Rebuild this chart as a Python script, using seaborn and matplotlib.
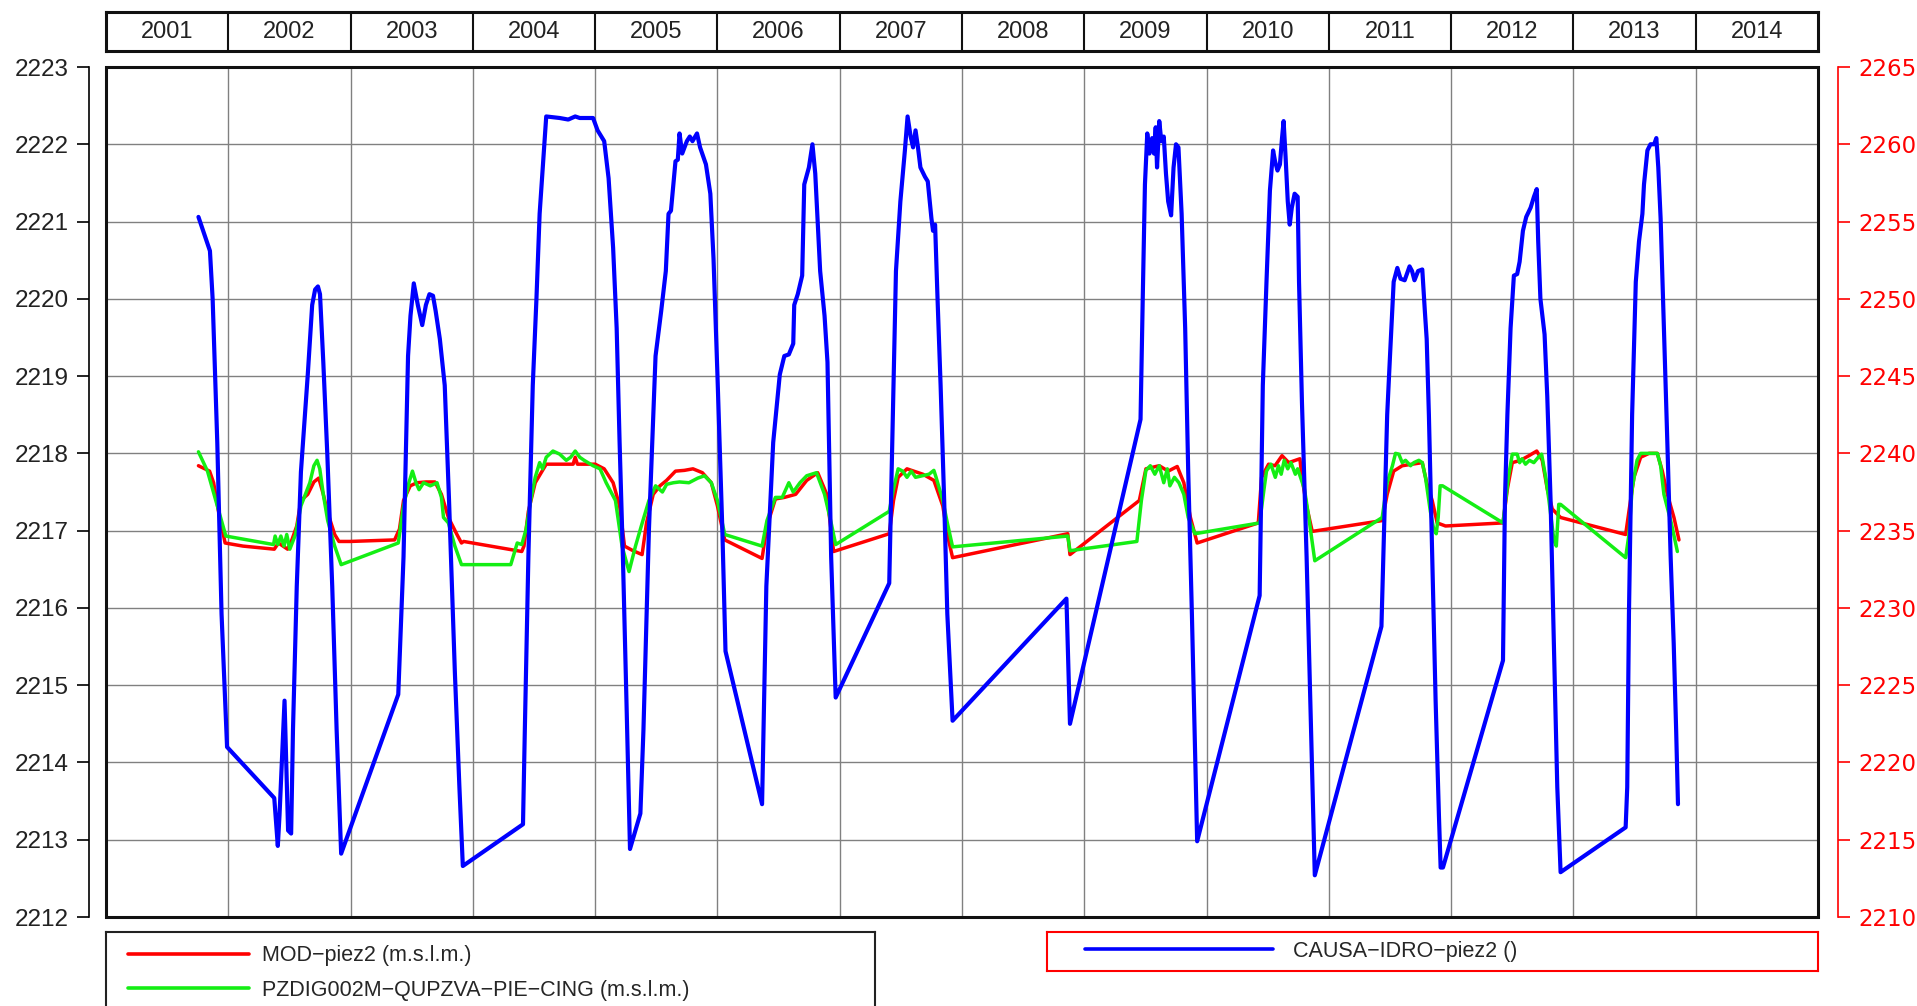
import matplotlib
matplotlib.use("Agg")
import matplotlib.pyplot as plt
from matplotlib.patches import Rectangle
from matplotlib.lines import Line2D
import seaborn as sns
import pandas as pd

# ---------------- data ----------------
YEARS = list(range(2001, 2015))
LEFT_TICKS = list(range(2212, 2224))
RIGHT_TICKS = list(range(2210, 2266, 5))

LABEL_RED = "MOD\u2212piez2 (m.s.l.m.)"
LABEL_GREEN = "PZDIG002M\u2212QUPZVA\u2212PIE\u2212CING (m.s.l.m.)"
LABEL_BLUE = "CAUSA\u2212IDRO\u2212piez2 ()"

blue_x = [2001.756, 2001.850, 2001.872, 2001.910, 2001.945, 2001.990, 2002.376, 2002.405, 2002.419, 2002.441,
          2002.460, 2002.474, 2002.489, 2002.514, 2002.529, 2002.560, 2002.594, 2002.650, 2002.686, 2002.710,
          2002.733, 2002.750, 2002.777, 2002.810, 2002.850, 2002.886, 2002.923, 2003.390, 2003.433, 2003.470,
          2003.490, 2003.517, 2003.550, 2003.586, 2003.616, 2003.645, 2003.674, 2003.696, 2003.730, 2003.770,
          2003.805, 2003.853, 2003.890, 2003.918, 2004.410, 2004.425, 2004.454, 2004.490, 2004.520, 2004.546,
          2004.600, 2004.710, 2004.780, 2004.837, 2004.874, 2004.983, 2005.020, 2005.074, 2005.110, 2005.147,
          2005.176, 2005.200, 2005.227, 2005.256, 2005.285, 2005.370, 2005.395, 2005.440, 2005.494, 2005.540,
          2005.578, 2005.600, 2005.620, 2005.657, 2005.676, 2005.690, 2005.712, 2005.750, 2005.774, 2005.796,
          2005.833, 2005.858, 2005.906, 2005.942, 2005.968, 2006.000, 2006.040, 2006.066, 2006.365, 2006.400,
          2006.456, 2006.510, 2006.547, 2006.584, 2006.620, 2006.628, 2006.657, 2006.693, 2006.710, 2006.748,
          2006.777, 2006.800, 2006.840, 2006.876, 2006.900, 2006.930, 2006.967, 2007.405, 2007.430, 2007.460,
          2007.496, 2007.533, 2007.555, 2007.580, 2007.600, 2007.620, 2007.640, 2007.660, 2007.697, 2007.720,
          2007.750, 2007.763, 2007.780, 2007.800, 2007.825, 2007.854, 2007.880, 2007.923, 2008.854, 2008.883,
          2009.460, 2009.478, 2009.496, 2009.515, 2009.533, 2009.555, 2009.570, 2009.584, 2009.595, 2009.613,
          2009.630, 2009.650, 2009.668, 2009.686, 2009.710, 2009.730, 2009.750, 2009.770, 2009.796, 2009.825,
          2009.850, 2009.880, 2009.923, 2010.434, 2010.460, 2010.490, 2010.518, 2010.544, 2010.560, 2010.580,
          2010.600, 2010.617, 2010.630, 2010.646, 2010.664, 2010.680, 2010.697, 2010.720, 2010.745, 2010.756,
          2010.780, 2010.818, 2010.854, 2010.885, 2011.430, 2011.458, 2011.477, 2011.500, 2011.530, 2011.560,
          2011.586, 2011.620, 2011.660, 2011.680, 2011.700, 2011.730, 2011.764, 2011.785, 2011.800, 2011.818,
          2011.845, 2011.873, 2011.900, 2011.914, 2011.933, 2012.424, 2012.440, 2012.460, 2012.486, 2012.513,
          2012.540, 2012.560, 2012.587, 2012.614, 2012.650, 2012.677, 2012.700, 2012.712, 2012.730, 2012.764,
          2012.786, 2012.813, 2012.840, 2012.868, 2012.895, 2013.427, 2013.440, 2013.454, 2013.480, 2013.510,
          2013.536, 2013.564, 2013.577, 2013.605, 2013.630, 2013.660, 2013.678, 2013.694, 2013.713, 2013.740,
          2013.768, 2013.795, 2013.820, 2013.840, 2013.855]
blue_y = [2255.3, 2253.1, 2250.0, 2240.7, 2229.6, 2221.0, 2217.7, 2214.6, 2216.6, 2220.6,
          2224.0, 2219.9, 2215.6, 2215.4, 2222.1, 2231.4, 2238.8, 2245.1, 2249.6, 2250.6,
          2250.8, 2250.3, 2245.9, 2239.9, 2231.4, 2222.1, 2214.1, 2224.4, 2233.3, 2246.3,
          2248.9, 2251.0, 2249.6, 2248.3, 2249.6, 2250.3, 2250.2, 2249.2, 2247.4, 2244.4,
          2237.0, 2225.8, 2218.4, 2213.3, 2216.0, 2222.1, 2233.3, 2244.4, 2250.0, 2255.5,
          2261.8, 2261.7, 2261.6, 2261.8, 2261.7, 2261.7, 2260.9, 2260.2, 2257.8, 2253.3,
          2248.1, 2240.7, 2233.3, 2224.0, 2214.4, 2216.7, 2222.1, 2235.1, 2246.3, 2249.2,
          2251.8, 2255.5, 2255.7, 2258.9, 2259.0, 2260.7, 2259.4, 2260.2, 2260.5, 2260.2,
          2260.7, 2259.8, 2258.7, 2256.8, 2252.6, 2245.1, 2235.1, 2227.2, 2217.3, 2231.4,
          2240.7, 2245.1, 2246.3, 2246.4, 2247.1, 2249.6, 2250.3, 2251.5, 2257.4, 2258.5,
          2260.0, 2258.1, 2251.8, 2248.9, 2245.9, 2233.3, 2224.2, 2231.6, 2240.7, 2251.8,
          2256.3, 2259.6, 2261.8, 2260.5, 2259.8, 2260.9, 2259.8, 2258.5, 2257.9, 2257.6,
          2255.2, 2254.4, 2254.8, 2250.0, 2244.4, 2237.0, 2229.6, 2222.7, 2230.6, 2222.5,
          2242.2, 2250.0, 2257.4, 2260.7, 2259.4, 2260.4, 2259.4, 2261.1, 2258.5, 2261.5,
          2260.2, 2260.5, 2258.1, 2256.3, 2255.4, 2258.5, 2260.0, 2259.8, 2255.5, 2248.1,
          2238.8, 2229.6, 2214.9, 2230.8, 2244.4, 2251.1, 2257.0, 2259.6, 2258.9, 2258.3,
          2258.7, 2260.4, 2261.5, 2259.2, 2256.3, 2254.8, 2255.9, 2256.8, 2256.6, 2251.1,
          2243.3, 2233.3, 2222.1, 2212.7, 2228.8, 2237.0, 2242.5, 2246.3, 2251.1, 2252.0,
          2251.3, 2251.2, 2252.1, 2251.8, 2251.2, 2251.8, 2251.9, 2249.2, 2247.4, 2242.5,
          2233.3, 2224.0, 2216.6, 2213.2, 2213.2, 2226.6, 2237.0, 2242.5, 2248.1, 2251.5,
          2251.6, 2252.4, 2254.4, 2255.3, 2255.9, 2256.6, 2257.1, 2253.7, 2250.0, 2247.7,
          2243.7, 2237.0, 2227.7, 2218.4, 2212.9, 2215.8, 2218.4, 2229.6, 2242.5, 2251.1,
          2253.7, 2255.5, 2257.4, 2259.6, 2260.0, 2260.0, 2260.4, 2258.5, 2255.2, 2248.1,
          2240.7, 2233.3, 2227.7, 2222.1, 2217.3]

red_x = [2001.756, 2001.847, 2001.880, 2001.920, 2001.974, 2002.120, 2002.376, 2002.410, 2002.485, 2002.520,
         2002.560, 2002.594, 2002.650, 2002.700, 2002.740, 2002.777, 2002.810, 2002.870, 2002.905, 2002.996,
         2003.360, 2003.400, 2003.433, 2003.488, 2003.543, 2003.616, 2003.690, 2003.743, 2003.800, 2003.870,
         2003.907, 2003.925, 2004.400, 2004.418, 2004.454, 2004.510, 2004.600, 2004.820, 2004.837, 2004.855,
         2005.000, 2005.074, 2005.147, 2005.200, 2005.240, 2005.310, 2005.384, 2005.420, 2005.475, 2005.530,
         2005.584, 2005.657, 2005.730, 2005.800, 2005.877, 2005.950, 2006.000, 2006.060, 2006.365, 2006.405,
         2006.474, 2006.547, 2006.640, 2006.730, 2006.820, 2006.894, 2006.950, 2007.405, 2007.440, 2007.478,
         2007.550, 2007.606, 2007.680, 2007.770, 2007.843, 2007.880, 2007.923, 2008.865, 2008.883, 2009.450,
         2009.504, 2009.613, 2009.686, 2009.760, 2009.814, 2009.868, 2009.923, 2010.423, 2010.450, 2010.507,
         2010.560, 2010.617, 2010.672, 2010.726, 2010.763, 2010.780, 2010.818, 2010.864, 2011.436, 2011.477,
         2011.530, 2011.600, 2011.680, 2011.764, 2011.800, 2011.845, 2011.886, 2011.954, 2012.424, 2012.460,
         2012.500, 2012.568, 2012.636, 2012.700, 2012.745, 2012.786, 2012.827, 2012.895, 2013.427, 2013.454,
         2013.495, 2013.550, 2013.618, 2013.686, 2013.727, 2013.768, 2013.822, 2013.863]
red_y = [2217.84, 2217.77, 2217.62, 2217.25, 2216.84, 2216.80, 2216.76, 2216.84, 2216.76, 2216.88,
         2217.06, 2217.39, 2217.47, 2217.63, 2217.68, 2217.47, 2217.25, 2216.95, 2216.86, 2216.86,
         2216.88, 2217.02, 2217.39, 2217.58, 2217.62, 2217.63, 2217.63, 2217.47, 2217.17, 2216.95,
         2216.84, 2216.86, 2216.73, 2216.80, 2217.25, 2217.62, 2217.86, 2217.86, 2217.95, 2217.86,
         2217.86, 2217.80, 2217.62, 2217.32, 2216.80, 2216.74, 2216.69, 2217.10, 2217.47, 2217.58,
         2217.65, 2217.77, 2217.78, 2217.80, 2217.75, 2217.62, 2217.32, 2216.88, 2216.64, 2217.06,
         2217.41, 2217.43, 2217.47, 2217.65, 2217.75, 2217.47, 2216.73, 2216.96, 2217.39, 2217.69,
         2217.80, 2217.77, 2217.73, 2217.65, 2217.32, 2216.95, 2216.65, 2216.96, 2216.69, 2217.39,
         2217.80, 2217.84, 2217.77, 2217.83, 2217.62, 2217.17, 2216.84, 2217.10, 2217.69, 2217.86,
         2217.84, 2217.97, 2217.88, 2217.91, 2217.93, 2217.69, 2217.32, 2216.99, 2217.13, 2217.47,
         2217.77, 2217.84, 2217.86, 2217.88, 2217.62, 2217.39, 2217.10, 2217.06, 2217.10, 2217.54,
         2217.88, 2217.91, 2217.97, 2218.03, 2217.91, 2217.54, 2217.28, 2217.17, 2216.95, 2217.25,
         2217.69, 2217.95, 2218.00, 2218.00, 2217.77, 2217.47, 2217.17, 2216.88]

green_x = [2001.756, 2001.830, 2001.910, 2001.980, 2002.370, 2002.383, 2002.405, 2002.430, 2002.456, 2002.478,
           2002.503, 2002.550, 2002.594, 2002.667, 2002.700, 2002.726, 2002.748, 2002.777, 2002.813, 2002.870,
           2002.923, 2003.390, 2003.433, 2003.477, 2003.506, 2003.535, 2003.560, 2003.597, 2003.652, 2003.707,
           2003.743, 2003.760, 2003.800, 2003.853, 2003.907, 2004.310, 2004.363, 2004.400, 2004.436, 2004.473,
           2004.510, 2004.546, 2004.570, 2004.600, 2004.655, 2004.710, 2004.764, 2004.800, 2004.837, 2004.874,
           2004.910, 2004.983, 2005.040, 2005.090, 2005.166, 2005.220, 2005.277, 2005.330, 2005.385, 2005.440,
           2005.494, 2005.550, 2005.585, 2005.640, 2005.690, 2005.767, 2005.840, 2005.894, 2005.950, 2006.000,
           2006.060, 2006.365, 2006.405, 2006.474, 2006.530, 2006.584, 2006.620, 2006.675, 2006.730, 2006.810,
           2006.876, 2006.930, 2006.967, 2007.405, 2007.440, 2007.478, 2007.515, 2007.550, 2007.585, 2007.620,
           2007.675, 2007.730, 2007.770, 2007.788, 2007.843, 2007.880, 2007.923, 2008.865, 2008.883, 2009.430,
           2009.467, 2009.504, 2009.540, 2009.577, 2009.613, 2009.650, 2009.679, 2009.700, 2009.737, 2009.774,
           2009.814, 2009.850, 2009.905, 2010.434, 2010.470, 2010.490, 2010.526, 2010.562, 2010.588, 2010.610,
           2010.635, 2010.664, 2010.690, 2010.726, 2010.745, 2010.800, 2010.836, 2010.885, 2011.436, 2011.477,
           2011.520, 2011.545, 2011.572, 2011.600, 2011.627, 2011.668, 2011.695, 2011.736, 2011.764, 2011.790,
           2011.830, 2011.857, 2011.878, 2011.894, 2011.910, 2011.930, 2012.424, 2012.468, 2012.500, 2012.540,
           2012.560, 2012.580, 2012.608, 2012.640, 2012.676, 2012.713, 2012.740, 2012.773, 2012.800, 2012.840,
           2012.860, 2012.880, 2012.895, 2013.427, 2013.454, 2013.480, 2013.520, 2013.550, 2013.686, 2013.713,
           2013.740, 2013.800, 2013.850]
green_y = [2218.02, 2217.77, 2217.32, 2216.93, 2216.82, 2216.93, 2216.82, 2216.93, 2216.80, 2216.95,
           2216.76, 2216.95, 2217.32, 2217.62, 2217.84, 2217.91, 2217.80, 2217.47, 2217.13, 2216.80,
           2216.56, 2216.84, 2217.32, 2217.62, 2217.77, 2217.62, 2217.53, 2217.62, 2217.58, 2217.62,
           2217.43, 2217.17, 2217.10, 2216.80, 2216.56, 2216.56, 2216.84, 2216.82, 2217.02, 2217.39,
           2217.69, 2217.88, 2217.80, 2217.95, 2218.03, 2217.99, 2217.91, 2217.95, 2218.03, 2217.95,
           2217.91, 2217.84, 2217.80, 2217.62, 2217.39, 2216.80, 2216.47, 2216.80, 2217.10, 2217.39,
           2217.58, 2217.50, 2217.60, 2217.62, 2217.63, 2217.62, 2217.68, 2217.71, 2217.62, 2217.39,
           2216.95, 2216.80, 2217.13, 2217.43, 2217.43, 2217.62, 2217.50, 2217.62, 2217.71, 2217.75,
           2217.47, 2217.10, 2216.82, 2217.25, 2217.54, 2217.80, 2217.77, 2217.69, 2217.77, 2217.69,
           2217.71, 2217.73, 2217.78, 2217.69, 2217.39, 2217.10, 2216.79, 2216.93, 2216.74, 2216.86,
           2217.39, 2217.78, 2217.84, 2217.73, 2217.84, 2217.62, 2217.80, 2217.58, 2217.69, 2217.62,
           2217.47, 2217.17, 2216.96, 2217.10, 2217.54, 2217.77, 2217.86, 2217.69, 2217.84, 2217.73,
           2217.91, 2217.80, 2217.88, 2217.73, 2217.80, 2217.54, 2217.17, 2216.61, 2217.17, 2217.62,
           2217.84, 2218.00, 2217.99, 2217.88, 2217.91, 2217.84, 2217.88, 2217.91, 2217.88, 2217.69,
           2217.25, 2217.02, 2216.96, 2217.17, 2217.58, 2217.58, 2217.10, 2217.69, 2217.99, 2217.99,
           2217.88, 2217.93, 2217.86, 2217.91, 2217.88, 2217.95, 2217.99, 2217.69, 2217.39, 2216.88,
           2216.80, 2217.34, 2217.34, 2216.65, 2216.95, 2217.54, 2217.91, 2218.00, 2218.00, 2217.84,
           2217.47, 2217.10, 2216.73]

RED = "#ff0000"
GREEN = "#14ee14"
BLUE = "#0000ff"

# ---------------- fonts ----------------
sns.set_theme(style="white")
plt.rcParams["font.family"] = ["Liberation Sans", "DejaVu Sans"]
LEG_SIZE = 15.5
LEG_PX = LEG_SIZE * 100 / 72.0

W, H = 1917, 1006
fig = plt.figure(figsize=(W / 100, H / 100), dpi=100)
fig.patch.set_facecolor("white")

PL, PR, PT, PB = 106, 1818, 67, 917
ax = fig.add_axes([PL / W, 1 - PB / H, (PR - PL) / W, (PB - PT) / H])

df_red = pd.DataFrame({"t": red_x, "v": red_y})
df_green = pd.DataFrame({"t": green_x, "v": green_y})
df_blue = pd.DataFrame({"t": blue_x, "v": blue_y})

sns.lineplot(data=df_red, x="t", y="v", ax=ax, color=RED, lw=2.5, sort=False, estimator=None)
sns.lineplot(data=df_green, x="t", y="v", ax=ax, color=GREEN, lw=2.5, sort=False, estimator=None)

ax.set_xlim(2001, 2015)
ax.set_ylim(2212, 2223)
ax.set_xticks(list(range(2001, 2016)))
ax.set_yticks(LEFT_TICKS)
ax.set_xlabel("")
ax.set_ylabel("")
ax.grid(True, color="#808080", lw=1.0)
ax.set_axisbelow(True)
ax.tick_params(axis="x", length=0, labelbottom=False)
ax.tick_params(axis="y", left=True, length=8.6, width=1.2, color="black", pad=6,
               labelsize=17.5, labelcolor="#222222")
for s in ["top", "right", "bottom"]:
    ax.spines[s].set_visible(False)
ax.spines["left"].set_position(("outward", 12.3))
ax.spines["left"].set_color("black")
ax.spines["left"].set_linewidth(1.2)
ax.add_patch(Rectangle((0, 0), 1, 1, transform=ax.transAxes, fill=False, ec="#111111",
                       lw=2.2, zorder=20, clip_on=False))

ax2 = ax.twinx()
sns.lineplot(data=df_blue, x="t", y="v", ax=ax2, color=BLUE, lw=3.0, sort=False, estimator=None)
ax2.set_ylim(2210, 2265)
ax2.set_yticks(RIGHT_TICKS)
ax2.set_ylabel("")
ax2.grid(False)
for s in ["top", "left", "bottom"]:
    ax2.spines[s].set_visible(False)
ax2.spines["right"].set_position(("outward", 14.4))
ax2.spines["right"].set_color(RED)
ax2.spines["right"].set_linewidth(1.2)
ax2.tick_params(axis="y", right=True, length=8.6, width=1.2, color=RED, pad=6,
                labelsize=16.5, labelcolor=RED)
for lab in ax2.get_yticklabels():
    lab.set_family("DejaVu Sans")

# ---------------- year header ----------------
HT, HB = 12, 51
hax = fig.add_axes([PL / W, 1 - HB / H, (PR - PL) / W, (HB - HT) / H])
hax.set_xlim(2001, 2015)
hax.set_ylim(0, 1)
hax.set_xticks([])
hax.set_yticks([])
for s in hax.spines.values():
    s.set_color("#111111")
    s.set_linewidth(2.2)
for yr in YEARS[1:]:
    hax.axvline(yr, color="#111111", lw=1.5)
for yr in YEARS:
    hax.text(yr + 0.5, 0.5, str(yr), ha="center", va="center", fontsize=17, color="#222222")

# ---------------- legends ----------------
lax1 = fig.add_axes([PL / W, -0.05, 769 / W, (1 - 932 / H) + 0.05])
lax1.set_xticks([])
lax1.set_yticks([])
for s in lax1.spines.values():
    s.set_color("#222222")
    s.set_linewidth(1.5)
h1 = [Line2D([], [], color=RED, lw=2.6), Line2D([], [], color=GREEN, lw=2.6)]
lax1.legend(h1, [LABEL_RED, LABEL_GREEN], loc="upper left", bbox_to_anchor=(22 / 769, 0.895),
            frameon=False, borderpad=0, borderaxespad=0, handlelength=121 / LEG_PX,
            handletextpad=13 / LEG_PX, labelspacing=0.64,
            prop={"family": "Liberation Sans", "size": LEG_SIZE})

lax2 = fig.add_axes([1047 / W, 1 - 971 / H, 771 / W, 39 / H])
lax2.set_xticks([])
lax2.set_yticks([])
for s in lax2.spines.values():
    s.set_color(RED)
    s.set_linewidth(1.5)
h2 = [Line2D([], [], color=BLUE, lw=2.6)]
lax2.legend(h2, [LABEL_BLUE], loc="center left", bbox_to_anchor=(38 / 771, 0.5),
            frameon=False, borderpad=0, borderaxespad=0, handlelength=188 / LEG_PX,
            handletextpad=20 / LEG_PX, prop={"family": "Liberation Sans", "size": LEG_SIZE})

fig.savefig("out.png", dpi=100, facecolor="white")
